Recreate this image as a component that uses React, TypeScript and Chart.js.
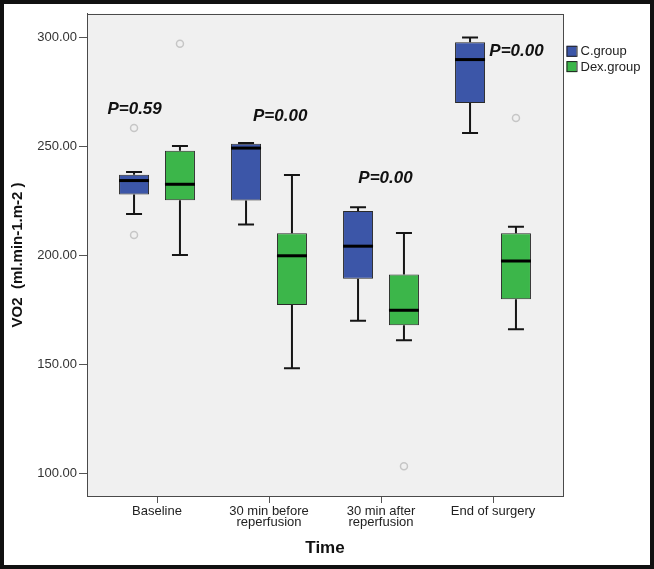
import React, { useEffect, useRef } from "react";
import { Chart, registerables } from "chart.js";

Chart.register(...registerables);

// ---- data ----
const categories: string[][] = [
  ["Baseline"],
  ["30 min before", "reperfusion"],
  ["30 min after", "reperfusion"],
  ["End of surgery"],
];
const yTicks = [100, 150, 200, 250, 300];

// C.group five-number summaries
const cMin = [218.9, 214.0, 169.9, 256.0];
const cQ1 = [227.8, 225.0, 189.2, 269.8];
const cMed = [234.2, 249.1, 204.1, 289.7];
const cQ3 = [236.9, 251.1, 220.2, 297.6];
const cMax = [238.1, 251.4, 222.0, 299.8];
const cOutliers: number[][] = [[258.3, 209.2], [], [], []];

// Dex.group five-number summaries
const dMin = [200.0, 148.1, 161.0, 166.0];
const dQ1 = [225.2, 177.1, 167.8, 179.7];
const dMed = [232.5, 199.7, 174.7, 197.3];
const dQ3 = [247.9, 210.0, 191.1, 210.0];
const dMax = [250.0, 236.8, 210.1, 213.0];
const dOutliers: number[][] = [[297.0], [], [103.2], [262.9]];

// p-value annotations
const pLabels = ["P=0.59", "P=0.00", "P=0.00", "P=0.00"];
const pValuesY = [266.8, 263.8, 235.4, 293.4];
const pOffsetsX = [-0.2, 0.1, 0.04, 0.21];

const seriesNames = ["C.group", "Dex.group"];

// ---- style ----
const BLUE = "rgb(60,86,168)";
const GREEN = "rgb(60,182,74)";
const FONT = "'Liberation Sans', Arial, sans-serif";
const GROUP_OFFSET = 0.205;

export default function App() {
  const ref = useRef<HTMLCanvasElement>(null);

  useEffect(() => {
    const canvas = ref.current!;
    const cx = (i: number) => i + 1 - GROUP_OFFSET;
    const dx = (i: number) => i + 1 + GROUP_OFFSET;

    const boxPlugin = {
      id: "boxExtras",
      beforeDraw(chart: any) {
        const { ctx, chartArea: a } = chart;
        ctx.save();
        ctx.fillStyle = "#f0f0f0";
        ctx.fillRect(a.left, a.top, a.right - a.left, a.bottom - a.top);
        ctx.restore();
      },
      beforeDatasetsDraw(chart: any) {
        const { ctx } = chart;
        const xs = chart.scales.x;
        const ys = chart.scales.y;
        ctx.save();
        ctx.strokeStyle = "#151515";
        ctx.lineWidth = 2;
        const whisk = (x: number, lo: number, q1: number, q3: number, hi: number) => {
          const px = xs.getPixelForValue(x);
          ctx.beginPath();
          ctx.moveTo(px, ys.getPixelForValue(lo));
          ctx.lineTo(px, ys.getPixelForValue(q1));
          ctx.moveTo(px, ys.getPixelForValue(q3));
          ctx.lineTo(px, ys.getPixelForValue(hi));
          ctx.moveTo(px - 8, ys.getPixelForValue(lo));
          ctx.lineTo(px + 8, ys.getPixelForValue(lo));
          ctx.moveTo(px - 8, ys.getPixelForValue(hi));
          ctx.lineTo(px + 8, ys.getPixelForValue(hi));
          ctx.stroke();
        };
        categories.forEach((_, i) => {
          whisk(cx(i), cMin[i], cQ1[i], cQ3[i], cMax[i]);
          whisk(dx(i), dMin[i], dQ1[i], dQ3[i], dMax[i]);
        });
        ctx.restore();
      },
      afterDatasetsDraw(chart: any) {
        const { ctx } = chart;
        const xs = chart.scales.x;
        const ys = chart.scales.y;
        ctx.save();
        ctx.strokeStyle = "#000";
        ctx.lineWidth = 3;
        const med = (x: number, m: number) => {
          const px = xs.getPixelForValue(x);
          const py = ys.getPixelForValue(m);
          ctx.beginPath();
          ctx.moveTo(px - 15, py);
          ctx.lineTo(px + 15, py);
          ctx.stroke();
        };
        categories.forEach((_, i) => {
          med(cx(i), cMed[i]);
          med(dx(i), dMed[i]);
        });
        ctx.restore();
      },
      afterDraw(chart: any) {
        const { ctx, chartArea: a } = chart;
        const xs = chart.scales.x;
        const ys = chart.scales.y;
        ctx.save();
        // frame
        ctx.strokeStyle = "#4a4a4a";
        ctx.lineWidth = 1;
        ctx.strokeRect(Math.round(a.left) + 0.5, Math.round(a.top) + 0.5, Math.round(a.right - a.left), Math.round(a.bottom - a.top));
        // p labels
        ctx.fillStyle = "#111";
        ctx.font = `italic bold 17px ${FONT}`;
        ctx.textAlign = "center";
        ctx.textBaseline = "middle";
        pLabels.forEach((t, i) => {
          ctx.fillText(t, xs.getPixelForValue(i + 1 + pOffsetsX[i]), ys.getPixelForValue(pValuesY[i]));
        });
        // legend
        const colors = [BLUE, GREEN];
        ctx.font = `13px ${FONT}`;
        ctx.textAlign = "left";
        seriesNames.forEach((name, i) => {
          const lx = a.right + 3.5;
          const ly = a.top + 32 + i * 15.3;
          ctx.fillStyle = colors[i];
          ctx.fillRect(lx, ly, 10, 11);
          ctx.strokeStyle = "#222";
          ctx.strokeRect(lx + 0.5, ly + 0.5, 10, 10);
          ctx.fillStyle = "#222";
          ctx.fillText(name, lx + 14, ly + 6);
        });
        ctx.restore();
      },
    };

    const chart = new Chart(canvas, {
      type: "bar",
      data: {
        datasets: [
          {
            label: seriesNames[0],
            data: categories.map((_, i) => ({ x: cx(i), y: [cQ1[i], cQ3[i]] })) as any,
            backgroundColor: BLUE,
            borderColor: "#2a2a2a",
            borderWidth: 1,
            borderSkipped: false,
            maxBarThickness: 30,
            grouped: false,
          } as any,
          {
            label: seriesNames[1],
            data: categories.map((_, i) => ({ x: dx(i), y: [dQ1[i], dQ3[i]] })) as any,
            backgroundColor: GREEN,
            borderColor: "#2a2a2a",
            borderWidth: 1,
            borderSkipped: false,
            maxBarThickness: 30,
            grouped: false,
          } as any,
          {
            type: "scatter",
            label: "outliers",
            data: [
              ...cOutliers.flatMap((arr, i) => arr.map((v) => ({ x: cx(i), y: v }))),
              ...dOutliers.flatMap((arr, i) => arr.map((v) => ({ x: dx(i), y: v }))),
            ],
            pointRadius: 3.5,
            pointBorderWidth: 1.5,
            borderColor: "#c6c6c6",
            backgroundColor: "rgba(0,0,0,0)",
          } as any,
        ],
      },
      options: {
        responsive: false,
        animation: false,
        devicePixelRatio: 1,
        layout: { padding: { left: 0, right: 87, top: 8, bottom: 0 } },
        plugins: { legend: { display: false }, tooltip: { enabled: false } },
        scales: {
          x: {
            type: "linear",
            min: 0.375,
            max: 4.625,
            offset: false,
            afterBuildTicks: (s: any) => {
              s.ticks = categories.map((_, i) => ({ value: i + 1 }));
            },
            afterFit: (s: any) => {
              s.height = 69;
            },
            grid: { display: true, drawOnChartArea: false, drawTicks: true, tickLength: 7, color: "#555", offset: false },
            border: { display: true, color: "#4a4a4a" },
            ticks: {
              autoSkip: false,
              maxRotation: 0,
              padding: 3,
              color: "#222",
              font: { family: FONT, size: 13, lineHeight: 0.85 },
              callback: (v: any) => categories[Number(v) - 1] ?? "",
            },
            title: {
              display: true,
              text: "Time",
              color: "#111",
              font: { family: FONT, size: 17, weight: "bold" },
              padding: { top: 0, bottom: 6.8 },
            },
          },
          y: {
            type: "linear",
            min: 89.5,
            max: 310.7,
            afterBuildTicks: (s: any) => {
              s.ticks = yTicks.map((v) => ({ value: v }));
            },
            afterFit: (s: any) => {
              s.width = 83;
            },
            grid: { display: true, drawOnChartArea: false, drawTicks: true, tickLength: 8, color: "#555" },
            border: { display: true, color: "#4a4a4a" },
            ticks: {
              padding: 2,
              color: "#333",
              font: { family: FONT, size: 13 },
              callback: (v: any) => Number(v).toFixed(2),
            },
            title: {
              display: true,
              text: "VO2  (ml.min-1.m-2 )",
              color: "#111",
              font: { family: FONT, size: 15, weight: "bold" },
              padding: { top: 5, bottom: 0 },
            },
          },
        },
      } as any,
      plugins: [boxPlugin as any],
    });
    return () => chart.destroy();
  }, []);

  return (
    <div
      style={{
        position: "fixed",
        left: 0,
        top: 0,
        width: 654,
        height: 569,
        boxSizing: "border-box",
        border: "4px solid #111",
        background: "#fff",
      }}
    >
      <canvas ref={ref} width={646} height={561} style={{ display: "block", width: 646, height: 561 }} />
    </div>
  );
}
